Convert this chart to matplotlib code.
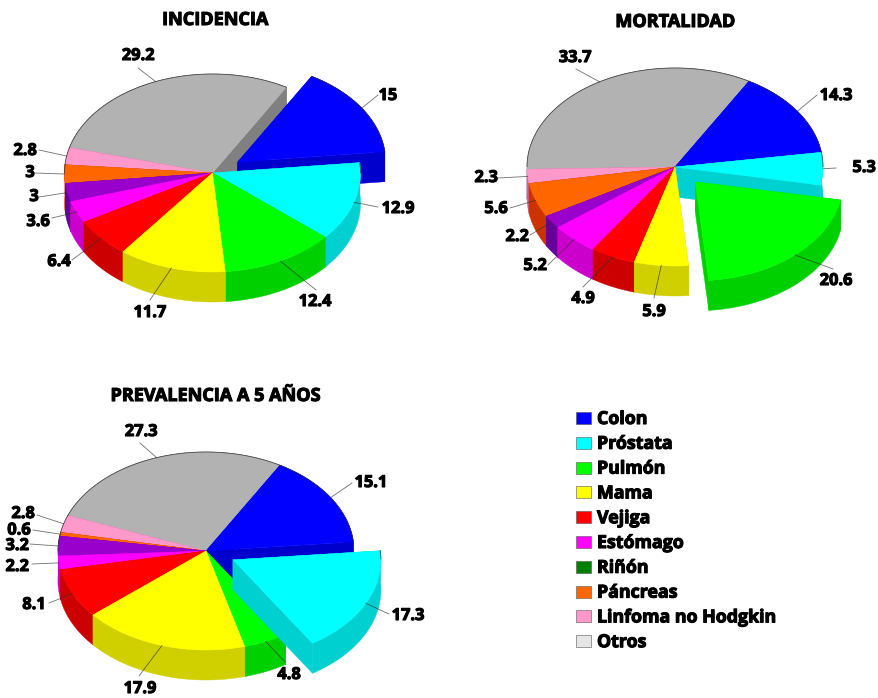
import numpy as np
import matplotlib
matplotlib.use("Agg")
import matplotlib.pyplot as plt
import matplotlib.patheffects as pe
from matplotlib.patches import Polygon, Rectangle

# Datos por localizacion (porcentajes), en sentido horario desde Colon
incidencia = [15, 12.9, 12.4, 11.7, 6.4, 3.6, 3, 3, 2.8, 29.2]
mortalidad = [14.3, 5.3, 20.6, 5.9, 4.9, 5.2, 2.2, 5.6, 2.3, 33.7]
prevalencia = [15.1, 17.3, 4.8, 17.9, 8.1, 2.2, 3.2, 0.6, 2.8, 27.3]

localizaciones = ["Colon", "Próstata", "Pulmón", "Mama", "Vejiga", "Estómago",
                  "Riñón", "Páncreas", "Linfoma no Hodgkin", "Otros"]

color_sup = ["#0000FF", "#00FFFF", "#00FF00", "#FFFF00", "#FF0000",
             "#FF00FF", "#9900CC", "#FF6600", "#FF99CC", "#B2B2B2"]
color_lado = ["#0000CC", "#00D0D0", "#00D000", "#D0D000", "#CC0000",
              "#CC00CC", "#660099", "#CC3300", "#CC6699", "#808080"]
color_leyenda = ["#0000FF", "#00FFFF", "#00FF00", "#FFFF00", "#FF0000",
                 "#FF00FF", "#008000", "#FF6600", "#FF99CC", "#E6E6E6"]

# Geometria comun de las tartas (en pixeles)
RX, RY, GROSOR = 148, 99, 30
INICIO = 30
SEPARA = 30

FUENTE = "Open Sans"
trazo = [pe.withStroke(linewidth=0.8, foreground="black")]

fig = plt.figure(figsize=(8.79, 6.98), dpi=100)
ax = fig.add_axes([0, 0, 1, 1])
ax.set_xlim(0, 879)
ax.set_ylim(698, 0)
ax.axis("off")


def punto(cx, cy, ang):
    a = np.radians(ang)
    return cx + RX * np.sin(a), cy - RY * np.cos(a)


def dibuja_porcion(cx, cy, a0, a1, sup, lado):
    angs = np.linspace(a0, a1, 80)
    xs, ys = punto(cx, cy, angs)
    borde = dict(linewidth=0.3, joinstyle="round")
    # paredes radiales y pared exterior, luego la cara superior
    for x, y in [(xs[0], ys[0]), (xs[-1], ys[-1])]:
        quad = [(cx, cy), (x, y), (x, y + GROSOR), (cx, cy + GROSOR)]
        ax.add_patch(Polygon(quad, fc=lado, ec=lado, **borde))
    arco = list(zip(xs, ys)) + list(zip(xs[::-1], ys[::-1] + GROSOR))
    ax.add_patch(Polygon(arco, fc=lado, ec=lado, **borde))
    cara = [(cx, cy)] + list(zip(xs, ys))
    ax.add_patch(Polygon(cara, fc=sup, ec=sup, **borde))
    # linea fina del borde en la mitad trasera
    atras = np.cos(np.radians(angs)) > 0
    if atras.any():
        ax.plot(xs[atras], ys[atras], color="#333333", lw=0.6, alpha=0.8)


def dibuja_tarta(valores, cx, cy, separada, titulo, pos_titulo, pos_etiq, fin_linea):
    # los porcentajes redondeados no siempre suman 100
    bordes = INICIO + np.cumsum([0] + list(valores)) / sum(valores) * 360
    porciones = []
    for i in range(len(valores)):
        medio = (bordes[i] + bordes[i + 1]) / 2
        x0, y0 = cx, cy
        if i == separada:
            x0 = cx + SEPARA * np.sin(np.radians(medio))
            y0 = cy - SEPARA * RY / RX * np.cos(np.radians(medio))
        clave = -np.cos(np.radians(medio))
        # una porcion separada hacia delante tapa a sus vecinas
        if i == separada and clave > 0:
            clave = 2
        porciones.append((clave, i, x0, y0, medio))

    for clave, i, x0, y0, medio in sorted(porciones):
        dibuja_porcion(x0, y0, bordes[i], bordes[i + 1], color_sup[i], color_lado[i])

    for clave, i, x0, y0, medio in porciones:
        xr, yr = punto(x0, y0, medio)
        ax.plot([xr, fin_linea[i][0]], [yr, fin_linea[i][1]], color="#333333",
                lw=0.6, alpha=0.7, zorder=5)
        ax.text(pos_etiq[i][0], pos_etiq[i][1], f"{valores[i]:g}", ha="center", va="center",
                fontsize=11.8, fontweight="bold", family=FUENTE, color="black",
                path_effects=trazo, zorder=6)

    ax.text(pos_titulo[0], pos_titulo[1], titulo, ha="center", va="center", fontsize=13,
            fontweight="bold", family=FUENTE, color="black", path_effects=trazo)


dibuja_tarta(incidencia, 212.5, 173, 0, "INCIDENCIA", (215, 20),
             [(388, 96), (398, 209), (315, 302), (150, 313), (59, 262),
              (38, 222), (34, 197), (30, 173), (25, 151), (138, 56)],
             [(378, 95), (378, 207), (316, 290), (150, 300), (72, 260),
              (52, 218), (39, 197), (35, 173), (39, 150), (138, 68)])

dibuja_tarta(mortalidad, 675, 167, 2, "MORTALIDAD", (675, 22),
             [(836, 96), (864, 168), (836, 281), (654, 312), (583, 299),
              (535, 266), (517, 237), (496, 209), (486, 178), (575, 58)],
             [(817, 95), (836, 168), (833, 269), (654, 298), (583, 287),
              (548, 265), (530, 235), (510, 208), (498, 178), (576, 69)])

dibuja_tarta(prevalencia, 206, 551, 1, "PREVALENCIA A 5 AÑOS", (215, 396),
             [(371, 483), (408, 616), (289, 675), (140, 689), (34, 605),
              (17, 567), (17, 546), (19, 530.5), (23, 514), (141, 432)],
             [(352, 483), (389, 614), (285, 662), (139, 676), (49, 603),
              (32, 564), (30, 544), (33, 530), (37, 515), (140, 443)])

# Leyenda
for i, nombre in enumerate(localizaciones):
    y = 418 + i * 24.8
    ax.add_patch(Rectangle((576, y - 6), 15, 12, fc=color_leyenda[i], ec="#555555", lw=0.4))
    ax.text(597, y + 1, nombre, ha="left", va="center", fontsize=12.8, fontweight="bold",
            family=FUENTE, color="black", path_effects=trazo)

fig.savefig("out.png", dpi=100)
